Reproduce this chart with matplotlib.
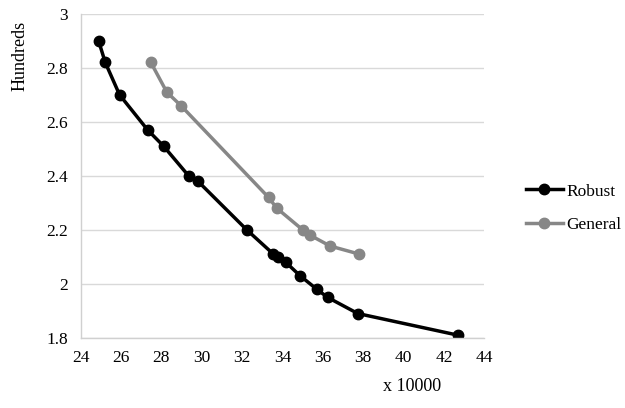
import matplotlib.pyplot as plt

plt.rcParams['font.family'] = ['Liberation Serif', 'DejaVu Serif']

robust_x = [24.89, 25.22, 25.93, 27.32, 28.11, 29.35, 29.81, 32.23, 33.55, 33.77,
            34.16, 34.87, 35.70, 36.23, 37.73, 42.68]
robust_y = [2.90, 2.82, 2.70, 2.57, 2.51, 2.40, 2.38, 2.20, 2.11, 2.10,
            2.08, 2.03, 1.98, 1.95, 1.89, 1.81]

general_x = [27.48, 28.27, 28.97, 33.31, 33.72, 35.00, 35.37, 36.36, 37.81]
general_y = [2.82, 2.71, 2.66, 2.32, 2.28, 2.20, 2.18, 2.14, 2.11]

xticks = [24, 26, 28, 30, 32, 34, 36, 38, 40, 42, 44]
yticks = [1.8, 2, 2.2, 2.4, 2.6, 2.8, 3]
ytick_labels = ['1.8', '2', '2.2', '2.4', '2.6', '2.8', '3']

fig = plt.figure(figsize=(6.25, 4.08), dpi=100)
ax = fig.add_axes([0.129, 0.172, 0.646, 0.794])

ax.plot(robust_x, robust_y, color='black', lw=2.5, marker='o', ms=7.5, label='Robust')
ax.plot(general_x, general_y, color='#878787', lw=2.5, marker='o', ms=7.5, label='General')

ax.set_xlim(24, 44)
ax.set_ylim(1.8, 3)
ax.set_xticks(xticks)
ax.set_yticks(yticks)
ax.set_yticklabels(ytick_labels)
ax.tick_params(length=0, labelsize=12.5, pad=9)
ax.grid(axis='y', color='#d9d9d9', lw=1)
ax.set_axisbelow(True)
for s in ['top', 'right']:
    ax.spines[s].set_visible(False)
for s in ['left', 'bottom']:
    ax.spines[s].set_color('#d0d0d0')
    ax.spines[s].set_linewidth(1)

ax.set_ylabel('Hundreds', fontsize=13)
ax.yaxis.set_label_coords(-0.13, 0.87)
ax.text(0.82, -0.15, 'x 10000', transform=ax.transAxes, fontsize=13,
        ha='center', va='center')

ax.legend(loc='center left', bbox_to_anchor=(1.065, 0.40), frameon=False,
          fontsize=12.5, handlelength=2.1, labelspacing=1.0, handletextpad=0.2)

fig.savefig('out.png')
